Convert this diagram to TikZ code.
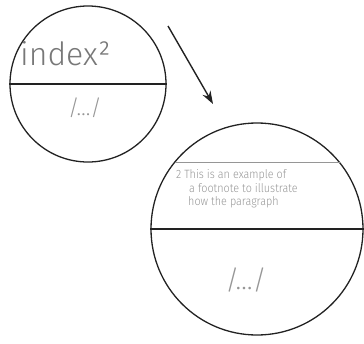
\documentclass[tikz,border=0pt]{standalone}
\usepackage{fontspec}
\setmainfont{Fira Sans Light}
\newfontfamily\notefont{Fira Sans Light}[FakeStretch=0.9]
\usetikzlibrary{arrows.meta}
\definecolor{InkGray}{RGB}{34,34,34}
\definecolor{TextGray}{RGB}{120,120,120}
\definecolor{NoteGray}{RGB}{150,150,150}
\tikzset{
  lens/.style={circle,draw=InkGray,line width=1.3pt,inner sep=0pt},
  cut/.style={draw=InkGray,line width=1.3pt},
  note/.style={NoteGray,font=\notefont\fontsize{12}{13}\selectfont,anchor=base west,inner sep=0pt},
}

\begin{document}
\begin{tikzpicture}[x=1pt,y=-1pt]
\useasboundingbox (0,0) rectangle (364,343);
% small circle
\node[lens,minimum size=156pt] (small) at (88,84) {};
\draw[cut] (small.west)--(small.east);
\node[TextGray,font=\fontsize{32}{32}\selectfont,anchor=base west,inner sep=0pt] (idx) at (20,65) {index²};
\node[NoteGray,font=\fontsize{22}{22}\selectfont] (dotsA) at (85,108) {/…/};
% arrow
\coordinate (from) at (168,26);
\coordinate (to) at (213,104);
\draw[-{Stealth[length=13pt,width=9pt]},InkGray,line width=1.4pt] (from)--(to);
% big circle
\node[lens,minimum size=212pt] (big) at (257,229) {};
\draw[cut] (big.west)--(big.east);
\draw[NoteGray,line width=1pt] (175,162)--(340,162);
\node[note] (n1) at (176,178) {2 This is an example of};
\node[note] (n2) at (189,192) {a footnote to illustrate};
\node[note] (n3) at (188,205) {how the paragraph};
\node[NoteGray,font=\fontsize{27}{27}\selectfont] (dotsB) at (246,280) {/…/};
\end{tikzpicture}
\end{document}
